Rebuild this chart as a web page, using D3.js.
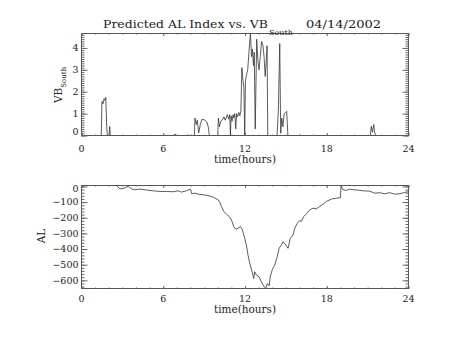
<!DOCTYPE html>
<html>
<head>
<meta charset="utf-8">
<script src="https://cdn.jsdelivr.net/npm/d3@7"></script>
<style>
  body { margin: 0; background: #fff; }
  svg text { font-family: "DejaVu Serif", "Liberation Serif", serif; fill: #222; }
</style>
</head>
<body>
<script>
// time (hours) and VB south values
var vbTime = [0,1.45,1.5,1.58,1.65,1.72,1.78,1.86,1.9,2.02,2.07,2.12,6.75,6.85,6.95,7.75,7.8,7.85,
  8.28,8.33,8.42,8.5,8.6,8.72,8.85,9.05,9.2,9.32,9.38,10.0,10.05,10.12,10.22,10.35,10.45,10.55,10.7,
  10.8,10.88,10.93,10.98,11.05,11.12,11.18,11.25,11.32,11.38,11.45,11.55,11.62,11.7,11.77,11.85,11.92,
  11.98,12.03,12.12,12.2,12.3,12.4,12.48,12.55,12.62,12.68,12.75,12.86,12.95,13.03,13.12,13.22,13.32,
  13.4,13.48,13.56,13.62,13.67,14.35,14.45,14.55,14.62,14.7,14.78,14.88,14.98,15.06,15.15,16.05,16.1,
  16.15,21.2,21.27,21.35,21.45,21.5,21.58,24];
var vbValue = [0,0,1.55,1.45,1.68,1.6,1.75,0.3,0,0,0.42,0,0,0.07,0,0,0.04,0,
  0,0.8,0.5,0.7,0.12,0.5,0.75,0.7,0.62,0.35,0,0,0.8,0.4,0.65,0.72,0.85,0.7,0.95,
  0.75,0.95,0,0.9,0.65,0.95,0.8,1.0,0.3,1.0,0.85,1.05,0.9,1.15,3.1,2.5,2.2,
  0,2.5,2.8,3.0,3.9,4.66,3.6,3.95,3.2,3.8,0.3,4.4,3.4,3.0,3.6,4.3,4.1,
  3.6,2.7,3.4,4.1,0,0,1.2,4.2,0.1,0.8,0.4,1.0,1.05,1.1,0,0,0.03,
  0,0,0.42,0.15,0.5,0.2,0,0];

// predicted AL index
var alTime = [2.57,2.81,3.06,3.42,3.67,3.91,4.28,4.77,5.26,5.75,6.23,6.72,7.09,7.33,7.7,8.0,8.09,8.31,
  8.68,9.05,9.29,9.66,10.02,10.15,10.27,10.44,10.64,10.88,11.05,11.17,11.32,11.49,11.66,11.81,11.98,
  12.1,12.22,12.35,12.49,12.64,12.71,12.84,13.03,13.2,13.33,13.45,13.52,13.64,13.77,13.86,14.01,14.18,
  14.35,14.5,14.67,14.79,14.99,15.16,15.33,15.53,15.65,15.84,16.01,16.14,16.31,16.5,16.75,16.99,17.24,
  17.48,17.73,17.97,18.34,18.7,19.0,19.05,19.19,19.44,19.68,19.93,20.29,20.66,21.15,21.52,21.88,22.25,
  22.62,22.98,23.35,23.72,23.96];
var alValue = [6,-15,-13,0,-15,-21,-17,-23,-28,-32,-32,-34,-28,-36,-28,-17,-47,-43,
  -51,-55,-58,-68,-85,-100,-128,-160,-177,-196,-224,-256,-273,-267,-256,-278,-331,
  -374,-438,-491,-534,-588,-545,-566,-577,-609,-630,-645,-652,-620,-635,-573,-530,-502,
  -453,-395,-374,-353,-374,-395,-331,-310,-267,-235,-218,-224,-192,-175,-150,-139,-143,
  -128,-113,-96,-81,-75,-72,6,-21,-25,-17,-21,-23,-28,-30,-43,-40,-47,
  -40,-49,-47,-38,-34];

var xTicks = [0, 6, 12, 18, 24];
var vbTicks = [0, 1, 2, 3, 4];
var alTicks = [0, -100, -200, -300, -400, -500, -600];

var W = 453, H = 340;
var svg = d3.select("body").append("svg").attr("width", W).attr("height", H);

var left = 81.5, right = 408.5;

function panel(top, bottom, times, vals, ydom, yTicks, yMinor, labelY) {
  var x = d3.scaleLinear().domain([0, 24]).range([left, right]);
  var y = d3.scaleLinear().domain(ydom).range([bottom, top]);
  var g = svg.append("g");

  // data line
  g.append("path")
    .datum(d3.range(times.length))
    .attr("fill", "none")
    .attr("stroke", "#333")
    .attr("stroke-width", 0.8)
    .attr("d", d3.line().x(function(i){ return x(times[i]); }).y(function(i){ return y(vals[i]); }));

  // frame
  g.append("rect").attr("x", left).attr("y", top)
    .attr("width", right - left).attr("height", bottom - top)
    .attr("fill", "none").attr("stroke", "#555").attr("stroke-width", 1);

  // ticks on all four sides, pointing in
  function ticks(axis, tr) {
    var a = g.append("g").attr("transform", tr).call(axis);
    a.select(".domain").remove();
    a.selectAll("line").attr("stroke", "#666");
  }
  var xMinor = d3.range(0, 25, 1);
  ticks(d3.axisBottom(x).tickValues(xMinor).tickSize(-1).tickFormat(""), "translate(0," + bottom + ")");
  ticks(d3.axisBottom(x).tickValues(xTicks).tickSize(-2.5).tickFormat(""), "translate(0," + bottom + ")");
  ticks(d3.axisTop(x).tickValues(xMinor).tickSize(-1).tickFormat(""), "translate(0," + top + ")");
  ticks(d3.axisTop(x).tickValues(xTicks).tickSize(-2.5).tickFormat(""), "translate(0," + top + ")");
  ticks(d3.axisLeft(y).tickValues(yMinor).tickSize(-3).tickFormat(""), "translate(" + left + ",0)");
  ticks(d3.axisLeft(y).tickValues(yTicks).tickSize(-6).tickFormat(""), "translate(" + left + ",0)");
  ticks(d3.axisRight(y).tickValues(yMinor).tickSize(-3).tickFormat(""), "translate(" + right + ",0)");
  ticks(d3.axisRight(y).tickValues(yTicks).tickSize(-6).tickFormat(""), "translate(" + right + ",0)");

  // x labels
  g.selectAll(".xl").data(xTicks).enter().append("text")
    .attr("x", function(d){ return x(d); })
    .attr("y", labelY)
    .attr("text-anchor", "middle")
    .attr("font-size", 9.5)
    .text(function(d){ return d; });

  // y labels, kept inside the frame like IDL does
  var fmt = d3.format("d");
  g.selectAll(".yl").data(yTicks).enter().append("text")
    .attr("x", left - 3)
    .attr("y", function(d){ return Math.max(top + 3, Math.min(bottom - 4, y(d))) + 3.3; })
    .attr("text-anchor", "end")
    .attr("font-size", 9.5)
    .text(function(d){ return fmt(d); });

  g.append("text")
    .attr("x", 245).attr("y", labelY + 11)
    .attr("text-anchor", "middle")
    .attr("font-size", 10.5)
    .attr("textLength", 62).attr("lengthAdjust", "spacingAndGlyphs")
    .text("time(hours)");
  return g;
}

panel(33.5, 135.5, vbTime, vbValue, [0, 4.66], vbTicks, d3.range(0, 4.66, 0.1), 151.5);
panel(185.5, 288.5, alTime, alValue, [-652, 6], alTicks, d3.range(-640, 1, 20), 302);

// title
svg.append("text").attr("x", 103).attr("y", 28).attr("font-size", 11)
  .attr("textLength", 165).attr("lengthAdjust", "spacingAndGlyphs")
  .text("Predicted AL Index vs. VB");
svg.append("text").attr("x", 269).attr("y", 35).attr("font-size", 7)
  .attr("textLength", 24).attr("lengthAdjust", "spacingAndGlyphs")
  .text("South");
svg.append("text").attr("x", 306).attr("y", 28).attr("font-size", 11)
  .attr("textLength", 75).attr("lengthAdjust", "spacingAndGlyphs")
  .text("04/14/2002");

// y titles
var yt = svg.append("text").attr("transform", "translate(62,103) rotate(-90)").attr("font-size", 10.5);
yt.append("tspan").text("VB");
yt.append("tspan").attr("font-size", 7).attr("dy", 3.5).text("South");

svg.append("text").attr("transform", "translate(45,236) rotate(-90)")
  .attr("text-anchor", "middle").attr("font-size", 10.5).text("AL");
</script>
</body>
</html>
